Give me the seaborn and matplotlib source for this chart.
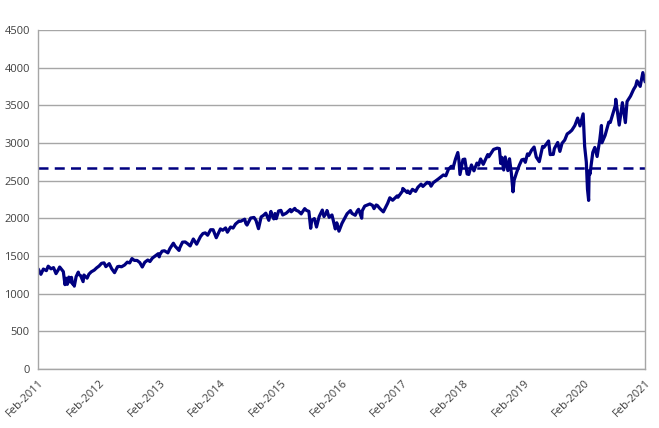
import pandas as pd
import matplotlib.pyplot as plt
import matplotlib.dates as mdates
import seaborn as sns

# index level (approx. semi-monthly points)
dates = [
    '2011-02-28', '2011-03-16', '2011-03-31', '2011-04-18', '2011-04-29', '2011-05-16', '2011-05-31',
    '2011-06-15', '2011-06-30', '2011-07-07', '2011-07-29', '2011-08-08', '2011-08-15', '2011-08-22',
    '2011-08-31', '2011-09-09', '2011-09-16', '2011-09-22', '2011-09-30', '2011-10-03', '2011-10-14',
    '2011-10-27', '2011-10-31', '2011-11-10', '2011-11-25', '2011-11-30', '2011-12-19', '2011-12-30',
    '2012-01-13', '2012-01-31', '2012-02-15', '2012-02-29', '2012-03-15', '2012-03-30', '2012-04-10',
    '2012-04-30', '2012-05-15', '2012-06-01', '2012-06-19', '2012-06-29', '2012-07-13', '2012-07-31',
    '2012-08-17', '2012-08-31', '2012-09-14', '2012-09-28', '2012-10-15', '2012-10-31', '2012-11-15',
    '2012-11-30', '2012-12-18', '2012-12-31',
    '2013-01-15', '2013-01-31', '2013-02-19', '2013-02-25', '2013-02-28', '2013-03-14', '2013-03-28',
    '2013-04-18', '2013-04-30', '2013-05-21', '2013-05-31', '2013-06-24', '2013-06-28', '2013-07-15',
    '2013-07-31', '2013-08-15', '2013-08-30', '2013-09-18', '2013-09-30', '2013-10-08', '2013-10-31',
    '2013-11-15', '2013-11-29', '2013-12-13', '2013-12-31',
    '2014-01-15', '2014-02-03', '2014-02-28', '2014-03-14', '2014-03-31', '2014-04-11', '2014-04-30',
    '2014-05-15', '2014-05-30', '2014-06-20', '2014-06-30', '2014-07-24', '2014-07-31', '2014-08-07',
    '2014-08-29', '2014-09-18', '2014-09-30', '2014-10-15', '2014-10-31', '2014-11-14', '2014-11-28',
    '2014-12-16', '2014-12-29', '2014-12-31',
    '2015-01-15', '2015-01-22', '2015-01-30', '2015-02-13', '2015-02-27', '2015-03-10', '2015-03-31',
    '2015-04-24', '2015-04-30', '2015-05-21', '2015-05-29', '2015-06-12', '2015-06-29', '2015-06-30',
    '2015-07-20', '2015-07-31', '2015-08-14', '2015-08-25', '2015-08-31', '2015-09-16', '2015-09-29',
    '2015-10-15', '2015-11-03', '2015-11-13', '2015-11-30', '2015-12-01', '2015-12-14', '2015-12-31',
    '2016-01-20', '2016-01-29', '2016-02-11', '2016-02-29', '2016-03-31', '2016-04-20', '2016-04-29',
    '2016-05-19', '2016-05-31', '2016-06-08', '2016-06-27', '2016-06-30', '2016-07-15', '2016-07-29',
    '2016-08-15', '2016-08-31', '2016-09-09', '2016-09-22', '2016-09-30', '2016-10-13', '2016-11-04',
    '2016-11-30', '2016-12-13', '2016-12-30',
    '2017-01-26', '2017-01-31', '2017-02-28', '2017-03-01', '2017-03-27', '2017-03-31', '2017-04-13',
    '2017-04-28', '2017-05-17', '2017-05-31', '2017-06-19', '2017-06-30', '2017-07-26', '2017-07-31',
    '2017-08-08', '2017-08-18', '2017-08-31', '2017-09-29', '2017-10-31', '2017-11-15', '2017-11-30',
    '2017-12-18', '2017-12-29',
    '2018-01-12', '2018-01-26', '2018-02-02', '2018-02-08', '2018-02-26', '2018-03-09', '2018-03-23',
    '2018-04-02', '2018-04-18', '2018-04-30', '2018-05-03', '2018-05-21', '2018-05-31', '2018-06-12',
    '2018-06-28', '2018-07-25', '2018-07-31', '2018-08-29', '2018-09-20', '2018-10-03', '2018-10-11',
    '2018-10-17', '2018-10-29', '2018-11-07', '2018-11-23', '2018-12-03', '2018-12-14', '2018-12-24',
    '2018-12-31',
    '2019-01-15', '2019-01-31', '2019-02-15', '2019-02-28', '2019-03-08', '2019-03-21', '2019-03-29',
    '2019-04-15', '2019-04-30', '2019-05-13', '2019-05-31', '2019-06-20', '2019-06-28', '2019-07-26',
    '2019-08-05', '2019-08-15', '2019-08-23', '2019-08-30', '2019-09-19', '2019-10-02', '2019-10-15',
    '2019-10-31', '2019-11-15', '2019-11-29', '2019-12-13', '2019-12-31',
    '2020-01-17', '2020-01-31', '2020-02-19', '2020-02-28', '2020-03-09', '2020-03-16', '2020-03-23',
    '2020-03-26', '2020-03-31', '2020-04-17', '2020-04-29', '2020-05-13', '2020-05-29', '2020-06-08',
    '2020-06-11', '2020-06-30', '2020-07-22', '2020-07-31', '2020-08-31', '2020-09-02', '2020-09-23',
    '2020-10-12', '2020-10-30', '2020-11-09', '2020-11-30', '2020-12-18', '2020-12-31',
    '2021-01-08', '2021-01-27', '2021-02-12', '2021-02-26',
]
values = [
    1327, 1256, 1326, 1305, 1364, 1329, 1345,
    1265, 1321, 1353, 1292, 1119, 1204, 1123,
    1219, 1154, 1216, 1129, 1131, 1099, 1225,
    1285, 1253, 1239, 1159, 1247, 1205, 1258,
    1289, 1312, 1343, 1366, 1402, 1408, 1358,
    1398, 1330, 1278, 1357, 1362, 1356, 1379,
    1418, 1407, 1465, 1441, 1440, 1412, 1353,
    1416, 1446, 1426,
    1472, 1498, 1530, 1488, 1515, 1563, 1569,
    1541, 1598, 1669, 1631, 1573, 1606, 1683,
    1686, 1662, 1633, 1725, 1682, 1656, 1757,
    1798, 1806, 1775, 1848,
    1848, 1742, 1859, 1841, 1872, 1815, 1884,
    1870, 1924, 1963, 1960, 1988, 1931, 1910,
    2003, 2011, 1972, 1862, 2018, 2039, 2068,
    1973, 2091, 2059,
    1992, 2063, 1995, 2097, 2105, 2044, 2068,
    2117, 2086, 2131, 2107, 2094, 2058, 2063,
    2128, 2104, 2092, 1867, 1972, 1996, 1884,
    2023, 2109, 2023, 2080, 2103, 2012, 2044,
    1859, 1940, 1829, 1932, 2060, 2102, 2065,
    2040, 2097, 2119, 2001, 2099, 2162, 2174,
    2190, 2171, 2128, 2177, 2168, 2132, 2085,
    2199, 2272, 2239,
    2297, 2279, 2364, 2396, 2342, 2363, 2329,
    2384, 2357, 2412, 2453, 2423, 2478, 2470,
    2475, 2426, 2472, 2519, 2575, 2564, 2648,
    2690, 2674,
    2786, 2873, 2762, 2581, 2780, 2786, 2588,
    2582, 2708, 2648, 2630, 2733, 2705, 2787,
    2716, 2846, 2816, 2914, 2931, 2925, 2728,
    2809, 2641, 2814, 2633, 2790, 2600, 2351,
    2507,
    2610, 2704, 2776, 2784, 2743, 2855, 2834,
    2905, 2946, 2812, 2752, 2954, 2942, 3026,
    2845, 2848, 2847, 2926, 3006, 2888, 2996,
    3038, 3120, 3141, 3169, 3231,
    3330, 3226, 3386, 2954, 2747, 2386, 2237,
    2630, 2585, 2875, 2940, 2820, 3044, 3232,
    3002, 3100, 3276, 3271, 3500, 3580, 3237,
    3535, 3270, 3550, 3622, 3709, 3756,
    3825, 3751, 3934, 3811,
]
reference_level = 2670
tick_years = list(range(2011, 2022))

df = pd.DataFrame({'date': pd.to_datetime(dates), 'value': values})

sns.set_style('white')
plt.rcParams['font.family'] = ['Open Sans', 'DejaVu Sans']

fig = plt.figure(figsize=(6.59, 4.28), dpi=100)
ax = fig.add_axes([0.058, 0.138, 0.921, 0.792])

grid_c = '#a6a6a6'
ax.yaxis.grid(True, color=grid_c, linewidth=1)
ax.set_axisbelow(True)

sns.lineplot(data=df, x='date', y='value', ax=ax, color='#000080', linewidth=2.3)
ax.axhline(reference_level, color='#000080', linewidth=1.8, dashes=(4, 2.5))

ax.set_xlim(df['date'].iloc[0], df['date'].iloc[-1])
ax.set_ylim(0, 4500)
ax.set_yticks(range(0, 4501, 500))

ticks = [pd.Timestamp(f'{y}-02-28') for y in tick_years]
ticks[-1] = df['date'].iloc[-1]
ax.set_xticks(ticks)
ax.xaxis.set_major_formatter(mdates.DateFormatter('%b-%Y'))
plt.setp(ax.get_xticklabels(), rotation=45, ha='right', rotation_mode='anchor')

ax.set_xlabel('')
ax.set_ylabel('')
ax.tick_params(axis='both', labelsize=8, labelcolor='#404040', color=grid_c,
               length=4, width=1, direction='out')
ax.tick_params(axis='x', pad=2)
ax.tick_params(axis='y', pad=2)

for side in ['left', 'bottom', 'right']:
    ax.spines[side].set_color(grid_c)
    ax.spines[side].set_linewidth(1)
ax.spines['top'].set_visible(False)

fig.savefig('out.png', dpi=100)
